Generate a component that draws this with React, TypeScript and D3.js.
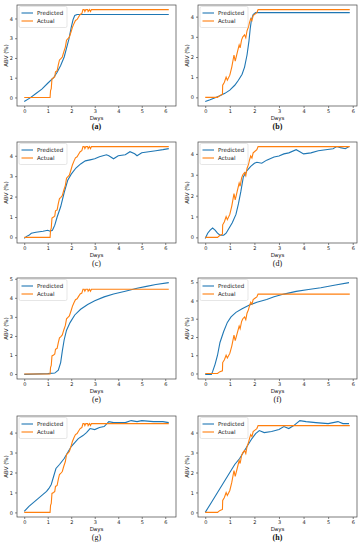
import { useEffect, useRef } from "react";
import * as d3 from "d3";

type Pt = [number, number];

// actual ABV, batch used in (a), (c), (e), (g)
const actualA: Pt[] = [
  [0, 0], [1.1, 0], [1.12, 0.35], [1.15, 0.45], [1.18, 0.95], [1.25, 1.0], [1.3, 1.05],
  [1.33, 1.3], [1.4, 1.35], [1.45, 1.65], [1.5, 1.9], [1.55, 1.95], [1.62, 2.05], [1.68, 2.3],
  [1.75, 2.55], [1.8, 2.9], [1.88, 3.0], [1.92, 3.05], [2.0, 3.35], [2.05, 3.55], [2.12, 3.75],
  [2.18, 3.9], [2.25, 3.95], [2.3, 4.05], [2.38, 4.2], [2.45, 4.25], [2.5, 4.45], [2.55, 4.45],
  [2.58, 4.35], [2.62, 4.45], [2.7, 4.45], [2.72, 4.35], [2.78, 4.45], [2.82, 4.35], [2.86, 4.45],
  [6.15, 4.45],
];

// actual ABV, batch used in (b), (d), (f), (h)
const actualB: Pt[] = [
  [0, 0], [0.5, 0], [0.6, 0.1], [0.7, 0.15], [0.71, 0.6], [0.78, 0.75], [0.85, 1.0], [0.9, 0.85],
  [1.0, 1.1], [1.08, 1.5], [1.17, 2.1], [1.22, 1.8], [1.3, 2.2], [1.38, 2.6], [1.42, 2.45],
  [1.48, 2.85], [1.53, 3.0], [1.6, 3.1], [1.65, 2.95], [1.7, 3.3], [1.76, 3.5], [1.8, 3.7],
  [1.85, 3.9], [1.9, 3.8], [1.95, 4.05], [2.05, 4.15], [2.1, 4.2], [2.15, 4.35], [5.88, 4.35],
];

const predA: Pt[] = [
  [0, -0.2], [0.25, -0.02], [0.5, 0.2], [0.75, 0.42], [1.0, 0.72], [1.25, 1.0], [1.4, 1.28],
  [1.55, 1.62], [1.7, 2.05], [1.8, 2.5], [1.9, 2.95], [2.0, 3.55], [2.08, 3.95], [2.15, 4.15],
  [2.25, 4.2], [6.15, 4.2],
];
const predB: Pt[] = [
  [0, -0.2], [0.2, -0.12], [0.4, -0.02], [0.6, 0.08], [0.8, 0.2], [1.0, 0.36], [1.2, 0.6],
  [1.35, 0.85], [1.5, 1.15], [1.6, 1.5], [1.7, 2.1], [1.78, 2.8], [1.83, 3.4], [1.88, 3.85],
  [1.95, 4.1], [2.05, 4.2], [5.88, 4.2],
];
const predC: Pt[] = [
  [0, -0.05], [0.1, 0.05], [0.2, 0.1], [0.3, 0.2], [0.5, 0.25], [0.8, 0.3], [1.0, 0.35],
  [1.1, 0.3], [1.2, 0.35], [1.3, 0.6], [1.4, 1.0], [1.55, 1.5], [1.7, 2.2], [1.85, 2.8],
  [2.0, 3.1], [2.2, 3.4], [2.4, 3.6], [2.6, 3.75], [2.8, 3.8], [3.0, 3.85], [3.2, 3.95],
  [3.5, 4.05], [3.6, 4.0], [3.8, 3.85], [4.0, 4.0], [4.3, 4.05], [4.5, 4.2], [4.7, 4.1],
  [4.8, 4.0], [5.0, 4.15], [5.3, 4.2], [5.6, 4.25], [5.9, 4.3], [6.15, 4.35],
];
const predD: Pt[] = [
  [0, -0.05], [0.1, 0.2], [0.2, 0.35], [0.3, 0.45], [0.4, 0.35], [0.5, 0.2], [0.6, 0.1],
  [0.75, 0.1], [0.85, 0.2], [0.95, 0.4], [1.1, 0.7], [1.25, 1.1], [1.35, 1.6], [1.45, 2.2],
  [1.55, 2.9], [1.7, 3.2], [1.85, 3.4], [2.0, 3.55], [2.1, 3.6], [2.3, 3.55], [2.5, 3.7],
  [2.8, 3.85], [3.0, 3.9], [3.2, 4.0], [3.4, 4.05], [3.7, 4.2], [3.85, 4.1], [4.0, 4.0],
  [4.3, 4.05], [4.6, 4.15], [4.9, 4.2], [5.2, 4.25], [5.35, 4.35], [5.5, 4.3], [5.7, 4.25],
  [5.85, 4.35],
];
const predE: Pt[] = [
  [0, -0.02], [1.0, 0.02], [1.3, 0.05], [1.45, 0.2], [1.55, 0.6], [1.62, 1.2], [1.7, 1.8],
  [1.8, 2.3], [1.95, 2.7], [2.15, 3.1], [2.4, 3.4], [2.7, 3.65], [3.0, 3.85], [3.4, 4.05],
  [3.8, 4.2], [4.3, 4.35], [4.8, 4.5], [5.2, 4.6], [5.6, 4.7], [6.15, 4.8],
];
const predF: Pt[] = [
  [0, -0.05], [0.25, -0.05], [0.3, 0.1], [0.4, 0.5], [0.5, 1.0], [0.6, 1.7], [0.75, 2.3],
  [0.9, 2.8], [1.05, 3.1], [1.25, 3.35], [1.5, 3.55], [1.8, 3.75], [2.1, 3.9], [2.5, 4.05],
  [2.8, 4.2], [3.2, 4.35], [3.7, 4.5], [4.2, 4.6], [4.7, 4.7], [5.3, 4.85], [5.85, 4.98],
];
const predG: Pt[] = [
  [0, 0.05], [0.2, 0.3], [0.4, 0.5], [0.6, 0.7], [0.8, 0.9], [0.95, 1.05], [1.05, 1.2],
  [1.15, 1.4], [1.25, 1.8], [1.35, 2.2], [1.5, 2.4], [1.7, 2.7], [1.85, 3.0], [2.0, 3.3],
  [2.15, 3.5], [2.3, 3.7], [2.5, 3.85], [2.65, 4.0], [2.8, 4.2], [3.0, 4.15], [3.2, 4.25],
  [3.4, 4.3], [3.6, 4.55], [3.8, 4.5], [4.3, 4.5], [4.55, 4.6], [4.8, 4.55], [5.0, 4.6],
  [5.5, 4.55], [5.9, 4.55], [6.15, 4.5],
];
const predH: Pt[] = [
  [0, 0], [0.25, 0.5], [0.5, 1.0], [0.75, 1.5], [1.0, 2.0], [1.2, 2.4], [1.4, 2.7],
  [1.55, 3.0], [1.75, 3.4], [1.9, 3.7], [2.05, 3.95], [2.2, 4.1], [2.4, 4.0], [2.7, 4.05],
  [3.0, 4.15], [3.2, 4.3], [3.4, 4.2], [3.6, 4.35], [3.85, 4.6], [4.1, 4.55], [4.5, 4.5],
  [5.0, 4.45], [5.4, 4.55], [5.6, 4.45], [5.85, 4.45],
];

const captions = ["(a)", "(b)", "(c)", "(d)", "(e)", "(f)", "(g)", "(h)"];
const boldCaptions = ["(a)", "(b)", "(h)"];
const predictedSeries = [predA, predB, predC, predD, predE, predF, predG, predH];
const actualSeries = [actualA, actualB, actualA, actualB, actualA, actualB, actualA, actualB];
const xTicks = [0, 1, 2, 3, 4, 5, 6];

const rowTops = [5, 142, 278, 416];
const boxH = 101;
const boxW = 159;
const colLeft = [17, 198];

const BLUE = "#1f77b4";
const ORANGE = "#ff7f0e";
const FONT = "DejaVu Sans, sans-serif";

function drawPanel(root, i) {
  const pred = predictedSeries[i];
  const act = actualSeries[i];
  const left = colLeft[i % 2];
  const top = rowTops[Math.floor(i / 2)];

  const all = pred.concat(act);
  const [x0, x1] = d3.extent(all, (d) => d[0]);
  const [y0, y1] = d3.extent(all, (d) => d[1]);
  const mx = (x1 - x0) * 0.05;
  const my = (y1 - y0) * 0.05;

  const x = d3.scaleLinear().domain([x0 - mx, x1 + mx]).range([0, boxW]);
  const y = d3.scaleLinear().domain([y0 - my, y1 + my]).range([boxH, 0]);
  const yTicks = d3.range(0, Math.floor(y1 + my) + 1);

  const g = root.append("g").attr("transform", `translate(${left},${top})`);

  const line = d3.line().x((d) => x(d[0])).y((d) => y(d[1]));

  g.append("path").datum(pred).attr("d", line).attr("fill", "none")
    .attr("stroke", BLUE).attr("stroke-width", 1.1);
  g.append("path").datum(act).attr("d", line).attr("fill", "none")
    .attr("stroke", ORANGE).attr("stroke-width", 1.1);

  // axes
  const ax = g.append("g").attr("transform", `translate(0,${boxH})`)
    .call(d3.axisBottom(x).tickValues(xTicks).tickFormat(d3.format("d"))
      .tickSize(2).tickPadding(1.5).tickSizeOuter(0));
  const ay = g.append("g")
    .call(d3.axisLeft(y).tickValues(yTicks).tickFormat(d3.format("d"))
      .tickSize(2).tickPadding(2).tickSizeOuter(0));
  [ax, ay].forEach((a) => {
    a.select(".domain").remove();
    a.selectAll("line").attr("stroke", "#333").attr("stroke-width", 0.6);
    a.selectAll("text").attr("font-family", FONT).attr("font-size", 5).attr("fill", "#222");
  });

  g.append("rect").attr("width", boxW).attr("height", boxH)
    .attr("fill", "none").attr("stroke", "#444").attr("stroke-width", 0.7);

  // legend
  const lg = g.append("g").attr("transform", "translate(2,1.5)");
  lg.append("rect").attr("width", 48).attr("height", 21).attr("rx", 1.5)
    .attr("fill", "white").attr("fill-opacity", 0.85)
    .attr("stroke", "#ccc").attr("stroke-width", 0.5);
  [["Predicted", BLUE], ["Actual", ORANGE]].forEach(([label, c], k) => {
    const ly = 6.5 + k * 8;
    lg.append("line").attr("x1", 2.5).attr("x2", 14).attr("y1", ly).attr("y2", ly)
      .attr("stroke", c).attr("stroke-width", 1.1);
    lg.append("text").attr("x", 18).attr("y", ly + 2).text(label)
      .attr("font-family", FONT).attr("font-size", 5.6).attr("fill", "#222");
  });

  g.append("text").attr("x", boxW / 2).attr("y", boxH + 14).attr("text-anchor", "middle")
    .attr("font-family", FONT).attr("font-size", 5.5).attr("fill", "#222").text("Days");

  g.append("text")
    .attr("transform", `translate(${-9},${boxH / 2}) rotate(-90)`)
    .attr("text-anchor", "middle").attr("font-family", FONT).attr("font-size", 5.5)
    .attr("fill", "#222").text("ABV (%)");

  g.append("text").attr("x", boxW / 2).attr("y", boxH + 23).attr("text-anchor", "middle")
    .attr("font-family", "Liberation Serif, serif").attr("font-size", 8)
    .attr("font-weight", boldCaptions.includes(captions[i]) ? "bold" : "normal")
    .attr("fill", "#111").text(captions[i]);
}

export default function App() {
  const ref = useRef(null);

  useEffect(() => {
    const svg = d3.select(ref.current);
    svg.selectAll("*").remove();
    svg.append("rect").attr("width", 362).attr("height", 550).attr("fill", "white");
    for (let i = 0; i < 8; i++) drawPanel(svg, i);
  }, []);

  return (
    <svg
      ref={ref}
      width={362}
      height={550}
      viewBox="0 0 362 550"
      style={{ position: "absolute", left: 0, top: 0 }}
    />
  );
}
